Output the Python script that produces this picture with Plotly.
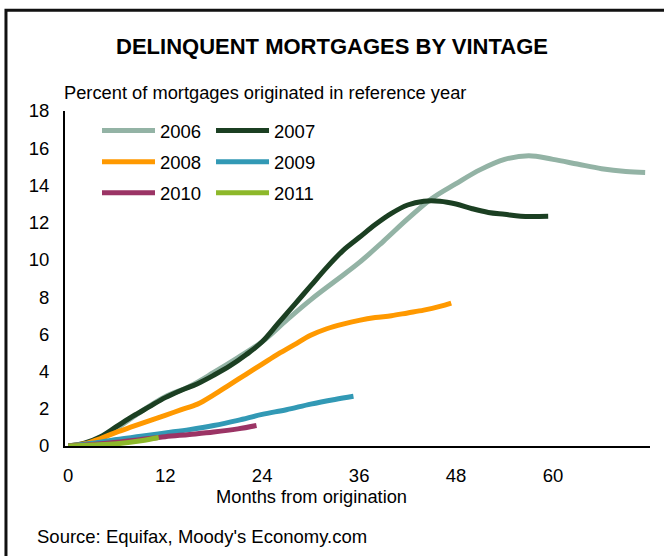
import plotly.graph_objects as go

# ---- data ----
m06 = [0, 3, 6, 9, 12, 15, 18, 21, 24, 27, 30, 33, 36, 39, 42, 45, 48, 51, 54, 57, 60, 63, 66, 69, 71.4]
v06 = [0, 0.1, 0.95, 1.85, 2.65, 3.2, 3.95, 4.75, 5.6, 6.75, 7.85, 8.85, 9.85, 11.0, 12.2, 13.3, 14.1, 14.85, 15.4, 15.6, 15.4, 15.15, 14.9, 14.75, 14.7]

m07 = [0, 2, 4, 6, 8, 10, 12, 14, 16, 18, 20, 22, 24, 26, 28, 30, 32, 34, 36, 38, 40, 42, 44, 46, 48, 50, 52, 54, 56, 59.4]
v07 = [0, 0.15, 0.5, 1.05, 1.6, 2.1, 2.6, 3.0, 3.35, 3.8, 4.3, 4.9, 5.6, 6.6, 7.6, 8.6, 9.6, 10.5, 11.2, 11.9, 12.5, 12.95, 13.15, 13.15, 13.0, 12.75, 12.55, 12.45, 12.35, 12.35]

m08 = [0, 2, 4, 6, 8, 10, 12, 14, 16, 18, 20, 22, 24, 26, 28, 30, 32, 34, 36, 38, 40, 42, 44, 46, 47.4]
v08 = [0, 0.12, 0.4, 0.75, 1.05, 1.35, 1.65, 1.95, 2.25, 2.75, 3.3, 3.85, 4.4, 4.95, 5.45, 5.95, 6.3, 6.55, 6.75, 6.9, 7.0, 7.15, 7.3, 7.5, 7.68]

m09 = [0, 3, 6, 9, 12, 15, 18, 21, 24, 27, 30, 33, 35.3]
v09 = [0, 0.15, 0.35, 0.52, 0.7, 0.88, 1.1, 1.38, 1.7, 1.95, 2.25, 2.5, 2.67]

m10 = [0, 3, 6, 9, 12, 15, 18, 21, 23.3]
v10 = [0, 0.08, 0.2, 0.35, 0.5, 0.62, 0.75, 0.92, 1.1]

m11 = [0, 3, 6, 9, 11.2]
v11 = [0, 0.05, 0.12, 0.28, 0.46]

vintages = ["2006", "2007", "2008", "2009", "2010", "2011"]
months = [m06, m07, m08, m09, m10, m11]
values = [v06, v07, v08, v09, v10, v11]
colors = ["#93b3a5", "#1b3f22", "#ff9900", "#3299b5", "#9b3465", "#8db82a"]

xticks = [0, 12, 24, 36, 48, 60]

FONT = "Liberation Sans, Arial, sans-serif"

fig = go.Figure()
legend_names = ["legend", "legend2", "legend3", "legend4", "legend5", "legend6"]
for name, mx, vy, c, lg in zip(vintages, months, values, colors, legend_names):
    fig.add_trace(go.Scatter(
        x=mx, y=vy, name=name, mode="lines",
        line=dict(color=c, width=5, shape="spline", smoothing=1.0),
        legend=lg, hoverinfo="x+y+name",
    ))

# legend placement: 3 rows x 2 columns
col_x = [0.0547, 0.2496]
row_y = [0.9403, 0.8469, 0.7543]
leg_layout = {}
for i, lg in enumerate(legend_names):
    r, cidx = divmod(i, 2)
    leg_layout[lg] = dict(
        x=col_x[cidx], y=row_y[r], xanchor="left", yanchor="middle",
        orientation="v", itemwidth=53, bgcolor="rgba(0,0,0,0)",
        borderwidth=0, font=dict(family=FONT, size=18.5, color="black"),
        tracegroupgap=0,
    )

fig.update_layout(
    width=664, height=556,
    margin=dict(l=65, r=14, t=111, b=110),
    paper_bgcolor="white", plot_bgcolor="white",
    font=dict(family=FONT, size=18, color="black"),
    title=dict(text="<b>DELINQUENT MORTGAGES BY VINTAGE</b>", x=0.5, xref="container",
               xanchor="center", y=1 - 46 / 556, yref="container", yanchor="middle",
               font=dict(family=FONT, size=22, color="black")),
    showlegend=True,
    **leg_layout,
)

fig.update_xaxes(
    range=[-0.4, 72], tickvals=xticks, ticktext=[str(t) for t in xticks],
    showline=True, linecolor="black", linewidth=2, ticks="", showgrid=False,
    zeroline=False, ticklabelstandoff=12,
    tickfont=dict(family=FONT, size=18.5, color="black"),
)
fig.update_yaxes(
    range=[0, 18], dtick=2, tick0=0,
    showline=True, linecolor="black", linewidth=2, ticks="", showgrid=False,
    zeroline=False, ticklabelstandoff=10,
    tickfont=dict(family=FONT, size=18.5, color="black"),
)

fig.add_annotation(text="Percent of mortgages originated in reference year",
                   xref="paper", yref="paper", x=-0.005, y=1.0567,
                   xanchor="left", yanchor="middle", showarrow=False,
                   font=dict(family=FONT, size=18.3, color="black"))
fig.add_annotation(text="Months from origination",
                   xref="paper", yref="paper", x=0.4222, y=-0.1493,
                   xanchor="center", yanchor="middle", showarrow=False,
                   font=dict(family=FONT, size=18.3, color="black"))
fig.add_annotation(text="Source: Equifax, Moody's Economy.com",
                   xref="paper", yref="paper", x=-0.0513, y=-0.2716,
                   xanchor="left", yanchor="middle", showarrow=False,
                   font=dict(family=FONT, size=18.5, color="black"))

# outer frame (left and top edges visible, others run off the image)
fig.add_shape(type="rect", xref="paper", yref="paper",
              x0=-0.1009, x1=2.0, y0=-2.0, y1=1.3006,
              line=dict(color="#111111", width=3), fillcolor="rgba(0,0,0,0)",
              layer="above")

fig.write_html("out.html", config={"displayModeBar": False},
               post_script="document.body.style.margin='0px';")
